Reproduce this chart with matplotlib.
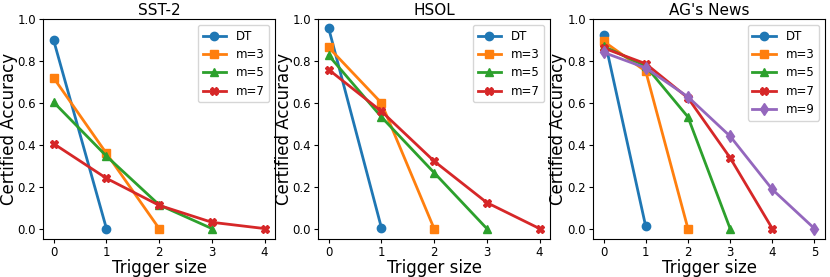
import matplotlib
matplotlib.use('Agg')
import matplotlib.pyplot as plt

titles = ["SST-2", "HSOL", "AG's News"]
labels = ["DT", "m=3", "m=5", "m=7", "m=9"]
markers = ['o', 's', '^', 'X', 'd']
colors = ['#1f77b4', '#ff7f0e', '#2ca02c', '#d62728', '#9467bd']

# certified accuracy per trigger size (starting at 0)
sst2 = [
    [0.898, 0.0],
    [0.719, 0.359, 0.0],
    [0.603, 0.346, 0.113, 0.0],
    [0.405, 0.240, 0.111, 0.030, 0.0],
]
hsol = [
    [0.957, 0.005],
    [0.865, 0.600, 0.0],
    [0.827, 0.533, 0.267, 0.0],
    [0.759, 0.560, 0.322, 0.124, 0.0],
]
agnews = [
    [0.925, 0.010],
    [0.894, 0.751, 0.0],
    [0.870, 0.776, 0.533, 0.0],
    [0.862, 0.787, 0.624, 0.338, 0.0],
    [0.841, 0.767, 0.629, 0.441, 0.187, 0.0],
]
datasets = [sst2, hsol, agnews]

fig, axes = plt.subplots(1, 3, figsize=(8.3, 2.77), dpi=100)
fig.subplots_adjust(left=0.052, right=0.994, bottom=0.137, top=0.931, wspace=0.185)

for ax, title, series in zip(axes, titles, datasets):
    for i, vals in enumerate(series):
        ax.plot(range(len(vals)), vals, marker=markers[i], color=colors[i],
                lw=2, markersize=6, label=labels[i])
    ax.set_title(title, fontsize=11, pad=3)
    ax.set_xlabel('Trigger size', fontsize=12, labelpad=0)
    ax.set_ylabel('Certified Accuracy', fontsize=12, labelpad=0)
    ax.set_ylim(-0.05, 1.0)
    ax.set_xticks(range(max(len(v) for v in series)))
    ax.tick_params(labelsize=8.5, pad=2, length=3)
    ax.legend(loc='upper right', fontsize=8.5, labelspacing=0.45)

fig.savefig('out.png')
